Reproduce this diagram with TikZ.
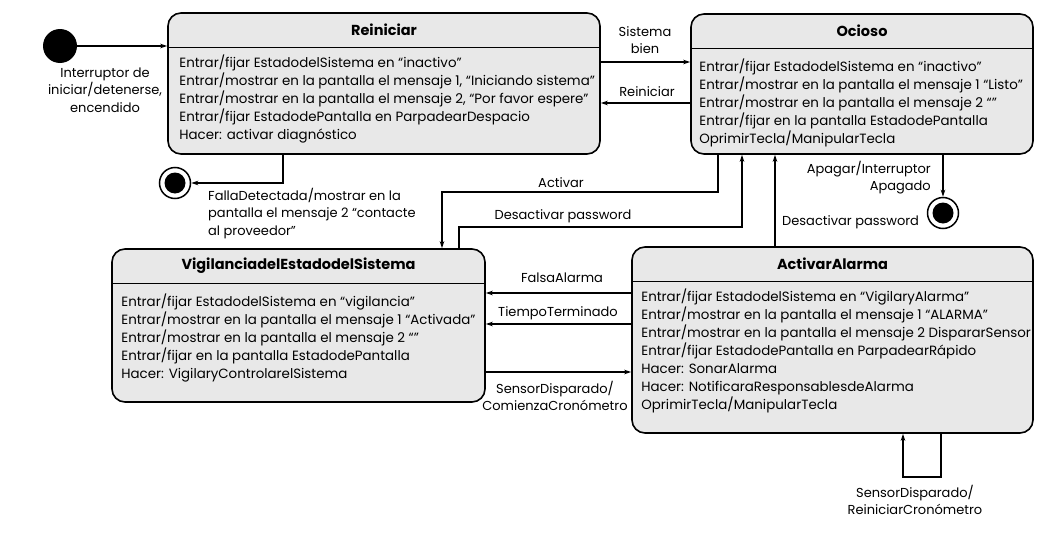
\documentclass[tikz,border=0pt]{standalone}
\usepackage{fontspec}
\setmainfont{Poppins}
\usetikzlibrary{arrows.meta}

\begin{document}
\begin{tikzpicture}
	[x=1pt,y=-1pt,
	 estado/.style={draw=black,line width=1.6pt,rounded corners=13pt,fill=black!9,inner sep=0pt},
	 titulo/.style={anchor=north,minimum height=35pt,inner sep=0pt,font=\fontsize{14.5}{16}\selectfont\bfseries},
	 cuerpo/.style={anchor=north west,align=left,inner sep=0pt,font=\fontsize{13.4}{18}\selectfont},
	 etiqueta/.style={align=center,inner sep=0pt,font=\fontsize{13}{17.5}\selectfont},
	 linea/.style={line width=1.6pt},
	 flecha/.style={line width=1.2pt,-{Stealth[length=7pt,width=4.5pt]}},
	 inicial/.style={circle,fill=black,minimum size=34pt,inner sep=0pt},
	 final/.style={circle,draw=black,line width=1.5pt,fill=white,minimum size=31pt,inner sep=0pt,
	   path picture={\fill[black] (path picture bounding box.center) circle (10.5pt);}}]
	\useasboundingbox (0,0) rectangle (1050,546);
	
	\node[estado,minimum width=432pt,minimum height=141pt] (reiniciar) at (384,83.5) {};
	\node[estado,minimum width=342pt,minimum height=140pt] (ocioso) at (862,84) {};
	\node[estado,minimum width=373pt,minimum height=153pt] (vigilancia) at (298.5,325.5) {};
	\node[estado,minimum width=401pt,minimum height=186pt] (alarma) at (832.5,340) {};
	
	\node[titulo] (tReiniciar) at (reiniciar.north) {Reiniciar};
	\node[titulo] (tOcioso) at (ocioso.north) {Ocioso};
	\node[titulo] (tVigilancia) at (vigilancia.north) {VigilanciadelEstadodelSistema};
	\node[titulo] (tAlarma) at (alarma.north) {ActivarAlarma};
	
	\foreach \t/\e in {tReiniciar/reiniciar,tOcioso/ocioso,tVigilancia/vigilancia,tAlarma/alarma}
	\draw[linea] (\t.south -| \e.west) -- (\t.south -| \e.east);
	
	\node[cuerpo] (cReiniciar) at ([xshift=12pt,yshift=-7pt]tReiniciar.south -| reiniciar.west)
	  {Entrar/fijar EstadodelSistema en “inactivo”\\
	   Entrar/mostrar en la pantalla el mensaje 1, “Iniciando sistema”\\
	   Entrar/mostrar en la pantalla el mensaje 2, “Por favor espere”\\
	   Entrar/fijar EstadodePantalla en ParpadearDespacio\\
	   Hacer: activar diagnóstico};
	\node[cuerpo] (cOcioso) at ([xshift=9pt,yshift=-10pt]tOcioso.south -| ocioso.west)
	  {Entrar/fijar EstadodelSistema en “inactivo”\\
	   Entrar/mostrar en la pantalla el mensaje 1 “Listo”\\
	   Entrar/mostrar en la pantalla el mensaje 2 “”\\
	   Entrar/fijar en la pantalla EstadodePantalla\\
	   OprimirTecla/ManipularTecla};
	\node[cuerpo] (cVigilancia) at ([xshift=10pt,yshift=-10pt]tVigilancia.south -| vigilancia.west)
	  {Entrar/fijar EstadodelSistema en “vigilancia”\\
	   Entrar/mostrar en la pantalla el mensaje 1 “Activada”\\
	   Entrar/mostrar en la pantalla el mensaje 2 “”\\
	   Entrar/fijar en la pantalla EstadodePantalla\\
	   Hacer: VigilaryControlarelSistema};
	\node[cuerpo] (cAlarma) at ([xshift=10pt,yshift=-7pt]tAlarma.south -| alarma.west)
	  {Entrar/fijar EstadodelSistema en “VigilaryAlarma”\\
	   Entrar/mostrar en la pantalla el mensaje 1 “ALARMA”\\
	   Entrar/mostrar en la pantalla el mensaje 2 DispararSensor\\
	   Entrar/fijar EstadodePantalla en ParpadearRápido\\
	   Hacer: SonarAlarma\\
	   Hacer: NotificaraResponsablesdeAlarma\\
	   OprimirTecla/ManipularTecla};
	
	\node[inicial] (inicio) at (60,46) {};
	\node[final] (fin1) at (175,183) {};
	\node[final] (fin2) at (943,213) {};
	
	\node[etiqueta] (lInicio) at (105,90) {Interruptor de\\iniciar/detenerse,\\encendido};
	\node[etiqueta] (lBien) at (645,40) {Sistema\\bien};
	\node[etiqueta] (lReiniciar) at (647,92) {Reiniciar};
	\node[etiqueta,anchor=north west,align=left] (lFalla) at (208,188)
	  {FallaDetectada/mostrar en la\\pantalla el mensaje 2 “contacte\\al proveedor”};
	\node[etiqueta] (lActivar) at (561,183) {Activar};
	\node[etiqueta] (lDesactivarA) at (563,216) {Desactivar password};
	\node[etiqueta,anchor=north east,align=right] (lApagar) at (931,161) {Apagar/Interruptor\\Apagado};
	\node[etiqueta,anchor=west] (lDesactivarB) at (782,222) {Desactivar password};
	\node[etiqueta] (lFalsa) at (562,278) {FalsaAlarma};
	\node[etiqueta] (lTiempo) at (558,313) {TiempoTerminado};
	\node[etiqueta] (lSensorA) at (555,396) {SensorDisparado/\\ComienzaCronómetro};
	\node[etiqueta] (lSensorB) at (915,500) {SensorDisparado/\\ReiniciarCronómetro};
	
	\coordinate (s1) at (645,62);
	\coordinate (s2) at (645,103);
	\coordinate (f1) at (283,183);
	\coordinate (a1) at (718,192);
	\coordinate (a2) at (442,192);
	\coordinate (d1) at (459,227);
	\coordinate (d2) at (742,227);
	\coordinate (d3) at (775,222);
	\coordinate (v1) at (560,293);
	\coordinate (v2) at (560,324);
	\coordinate (v3) at (560,372);
	\coordinate (b1) at (941,477);
	\coordinate (b2) at (903,477);
	
	\draw[flecha] (inicio.east) -- (inicio -| reiniciar.west);
	\draw[flecha] (reiniciar.east |- s1) -- (ocioso.west |- s1);
	\draw[flecha] (ocioso.west |- s2) -- (reiniciar.east |- s2);
	\draw[flecha] (reiniciar.south -| f1) -- (f1) -- (fin1.east);
	\draw[flecha] (ocioso.south -| a1) -- (a1) -- (a2) -- (a2 |- vigilancia.north);
	\draw[flecha] (vigilancia.north -| d1) -- (d1) -- (d2) -- (d2 |- ocioso.south);
	\draw[flecha] (ocioso.south -| fin2) -- (fin2.north);
	\draw[flecha] (alarma.north -| d3) -- (ocioso.south -| d3);
	\draw[flecha] (alarma.west |- v1) -- (vigilancia.east |- v1);
	\draw[flecha] (alarma.west |- v2) -- (vigilancia.east |- v2);
	\draw[flecha] (vigilancia.east |- v3) -- (alarma.west |- v3);
	\draw[flecha] (alarma.south -| b1) -- (b1) -- (b2) -- (alarma.south -| b2);
\end{tikzpicture}
\end{document}
